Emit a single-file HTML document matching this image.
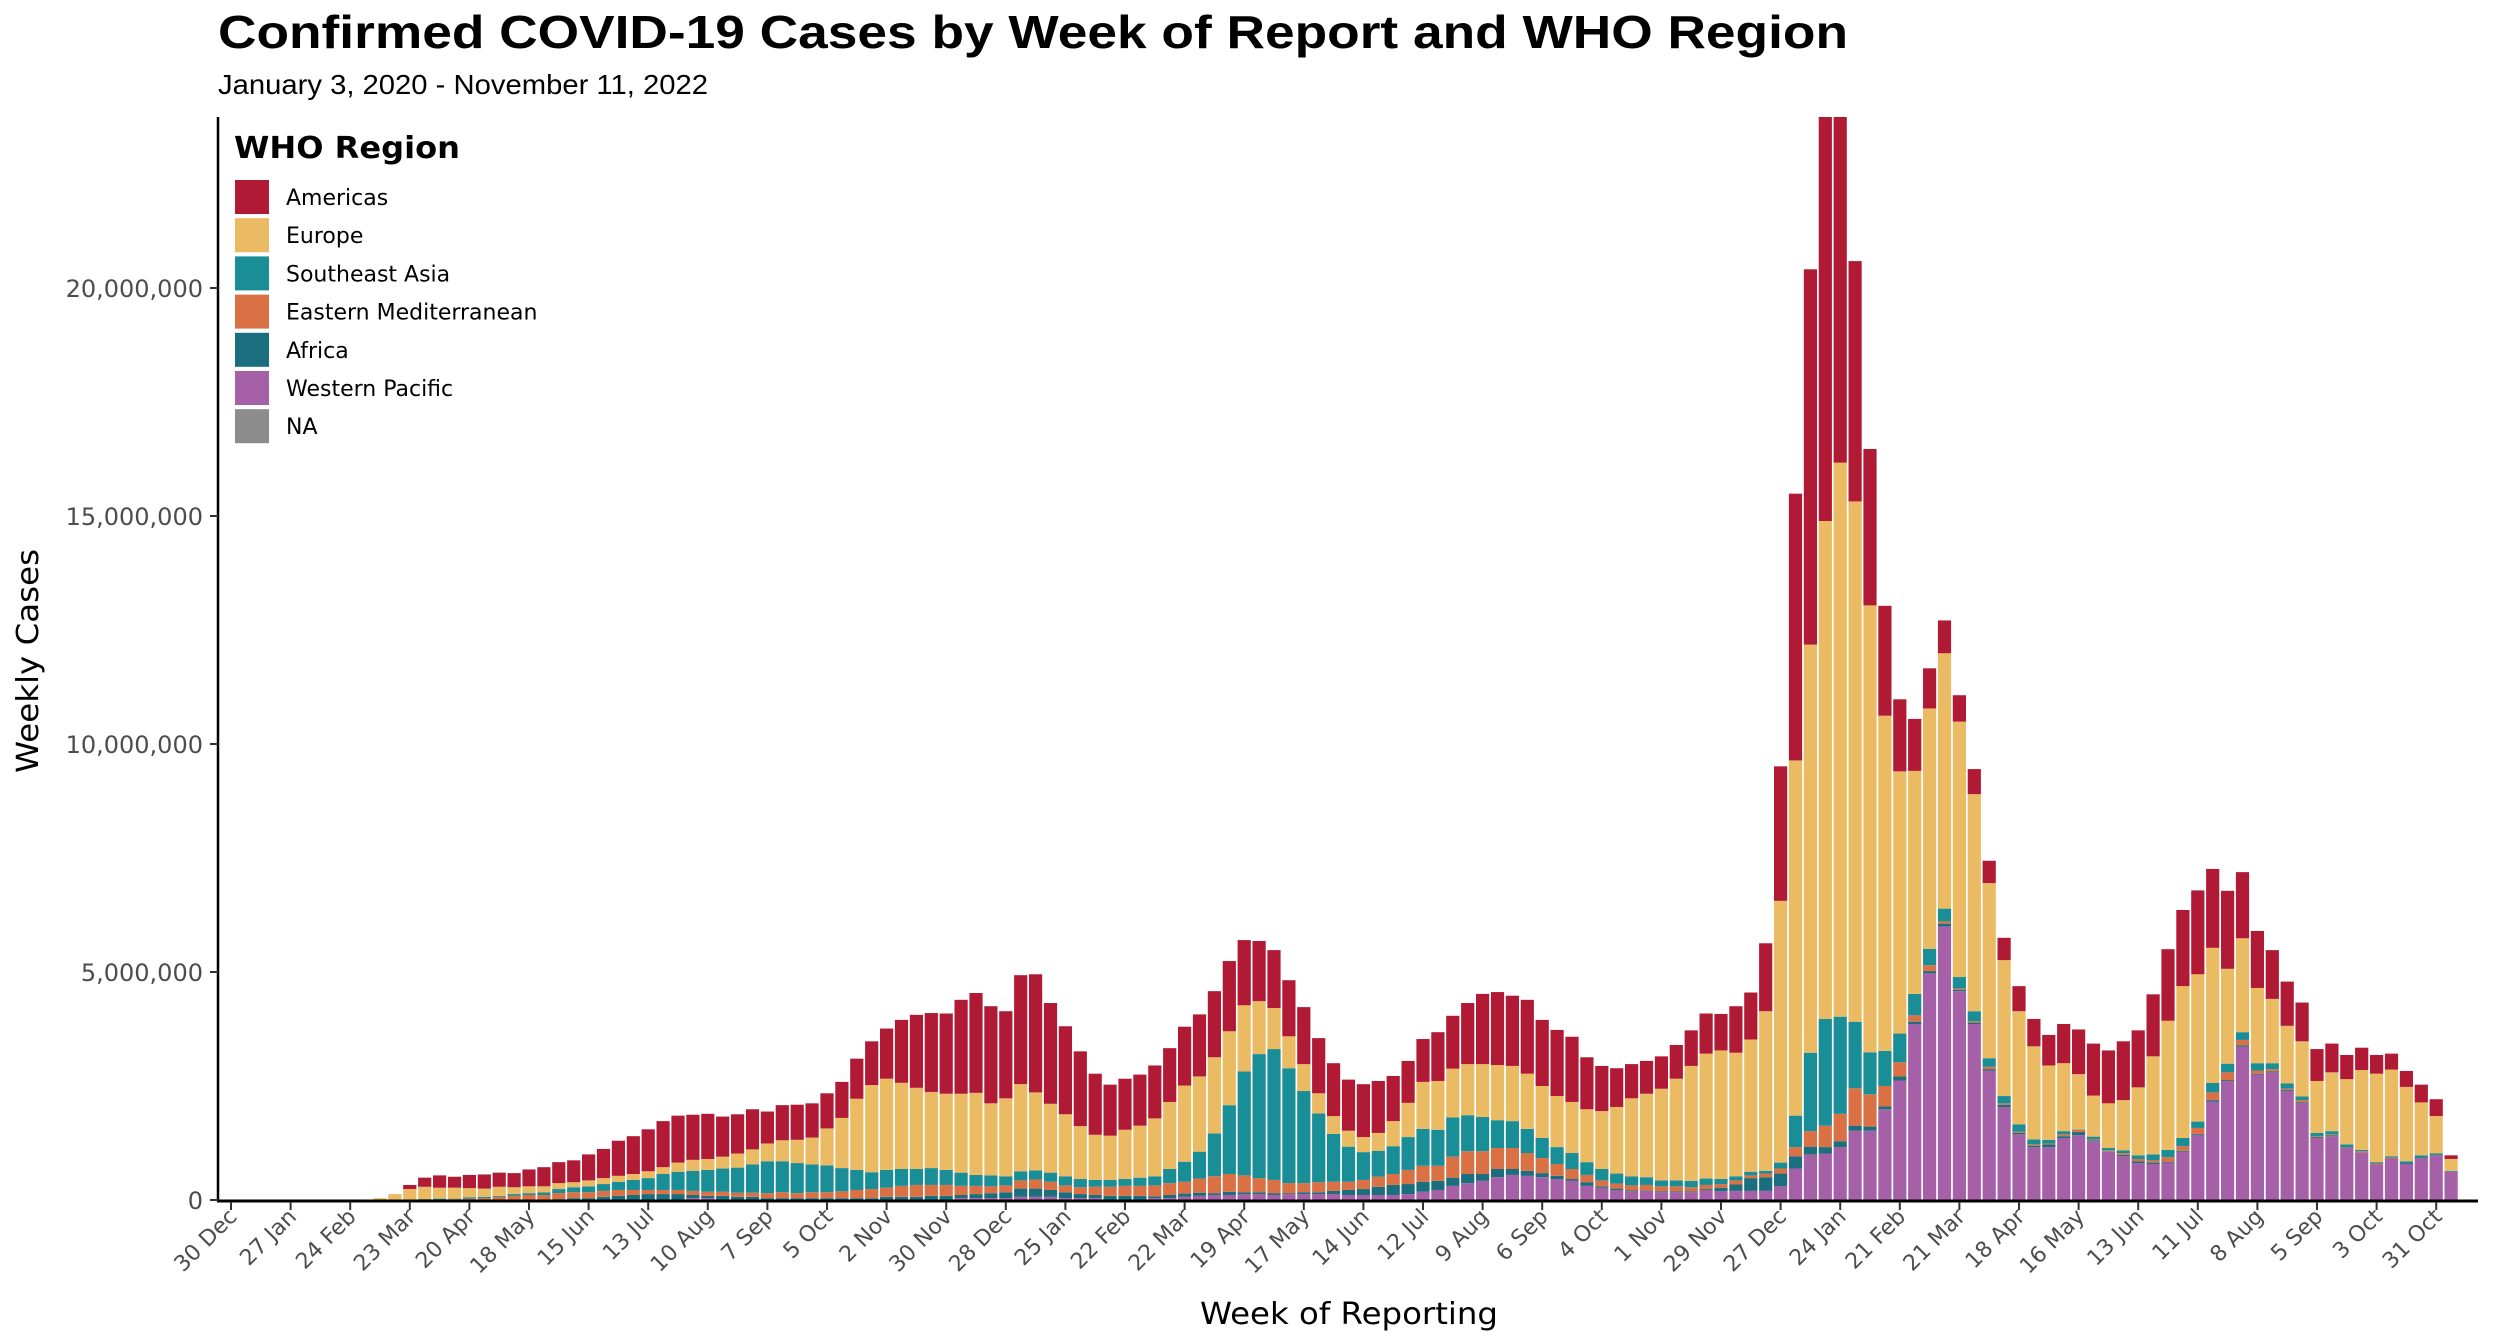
<!DOCTYPE html>
<html><head><meta charset="utf-8">
<style>
html,body{margin:0;padding:0;background:#fff;}
svg{display:block;font-family:"Liberation Sans",sans-serif;}
.dv{font-family:"DejaVu Sans","Liberation Sans",sans-serif;}
</style></head>
<body>
<svg id="chart" width="2496" height="1344" viewBox="0 0 2496 1344" xmlns="http://www.w3.org/2000/svg">
<rect x="0" y="0" width="2496" height="1344" fill="#ffffff"/>
<text x="218" y="48" font-size="46" font-weight="bold" fill="#000" textLength="1630" lengthAdjust="spacingAndGlyphs">Confirmed COVID-19 Cases by Week of Report and WHO Region</text>
<text x="218" y="94" font-size="28" fill="#000" textLength="490" lengthAdjust="spacingAndGlyphs">January 3, 2020 - November 11, 2022</text>
<g id="bars"></g>
<g id="axes"></g>
<text class="dv" transform="translate(38,661) rotate(-90)" text-anchor="middle" font-size="30" fill="#000" textLength="224" lengthAdjust="spacingAndGlyphs">Weekly Cases</text>
<text class="dv" x="1349" y="1324" text-anchor="middle" font-size="30" fill="#000" textLength="298" lengthAdjust="spacingAndGlyphs">Week of Reporting</text>
<g id="legend">
<text class="dv" x="234" y="158" font-size="30" font-weight="bold" fill="#000" textLength="226" lengthAdjust="spacingAndGlyphs">WHO Region</text>
</g>
</svg>
<script>
const weekCount = 150;
const tickLabels = ["30 Dec","27 Jan","24 Feb","23 Mar","20 Apr","18 May","15 Jun","13 Jul","10 Aug","7 Sep","5 Oct","2 Nov","30 Nov","28 Dec","25 Jan","22 Feb","22 Mar","19 Apr","17 May","14 Jun","12 Jul","9 Aug","6 Sep","4 Oct","1 Nov","29 Nov","27 Dec","24 Jan","21 Feb","21 Mar","18 Apr","16 May","13 Jun","11 Jul","8 Aug","5 Sep","3 Oct","31 Oct"];
const yTicks = [0, 5000000, 10000000, 15000000, 20000000];
const yTickLabels = ["0","5,000,000","10,000,000","15,000,000","20,000,000"];
const regions = ["Western Pacific","Africa","Eastern Mediterranean","Southeast Asia","Europe","Americas","NA"];
const legendOrder = ["Americas","Europe","Southeast Asia","Eastern Mediterranean","Africa","Western Pacific","NA"];
// values in millions of cases per week
const westernPacific = [
0,0,0,0,0,0,0,0,0,0,
0,0,0,0,0,0,0,0,0,0,
0,0,0,0,0,0,0,0,0,0,
0,.04,.04,0,0,0,0,0,0,0,
0,0,0,0,0,0,0,0,0,.04,
.04,.04,.04,.07,.07,.07,.04,.04,.04,0,
0,0,.04,.04,.07,.09,.11,.11,.13,.13,
.11,.13,.13,.13,.13,.11,.11,.11,.11,.13,
.18,.22,.31,.37,.42,.50,.55,.53,.50,.46,
.42,.31,.27,.22,.19,.20,.17,.17,.17,.22,
.19,.20,.20,.20,.30,.69,1.00,1.02,1.16,1.52,
1.52,1.99,2.62,3.86,4.97,6.00,4.58,3.86,2.84,2.04,
1.44,1.16,1.16,1.36,1.42,1.29,1.06,.96,.81,.79,
.82,1.06,1.43,2.16,2.61,3.36,2.75,2.80,2.39,2.12,
1.36,1.40,1.14,1.04,.78,.91,.79,.92,.98,.62];
const africa = [
0,0,0,0,0,0,0,0,0,0,
0,0,0,0,0,0,.01,.01,.01,.01,
.01,.01,.02,.04,.04,.07,.09,.11,.13,.13,
.13,.07,.05,.09,.07,.07,.04,.04,.04,.04,
.04,.04,.04,.04,.07,.07,.07,.09,.09,.07,
.09,.11,.13,.18,.18,.15,.13,.09,.07,.09,
.09,.09,.04,.07,.07,.07,.04,.07,.04,.04,
.04,.02,.04,.04,.07,.11,.13,.18,.22,.22,
.22,.20,.18,.20,.15,.18,.13,.11,.09,.07,
.04,.08,.03,.03,.02,.01,.02,.02,.02,.02,
.08,.14,.28,.30,.28,.27,.17,.14,.13,.11,
.09,.06,.09,.05,.05,.06,.03,.03,.03,.05,
.03,.03,.06,.04,.07,.02,.01,.03,.04,.03,
.02,.02,.02,.03,.02,.03,.02,.02,.02,.02,
.02,.02,.01,0,0,0,.02,.02,0,0];
const easternMediterranean = [
0,0,0,0,0,0,0,0,0,0,
0,0,.01,.01,.01,.02,.02,.03,.06,.08,
.10,.10,.13,.13,.13,.13,.13,.11,.09,.09,
.09,.09,.09,.09,.09,.09,.11,.13,.11,.13,
.13,.15,.18,.20,.20,.24,.26,.24,.24,.20,
.18,.15,.15,.18,.20,.18,.15,.15,.18,.20,
.22,.22,.24,.26,.26,.31,.37,.39,.37,.31,
.29,.22,.20,.22,.20,.18,.20,.22,.24,.31,
.35,.33,.46,.50,.50,.46,.46,.39,.33,.26,
.22,.16,.13,.11,.11,.12,.11,.11,.09,.09,
.08,.09,.06,.08,.11,.20,.34,.47,.60,.82,
.71,.45,.31,.14,.13,.05,.03,.03,.05,.03,
.03,.03,.02,.04,.05,.02,.02,.04,.05,.05,
.10,.10,.13,.17,.17,.12,.07,.05,.03,.05,
.02,.02,.01,.03,.02,.02,0,0,0,0];
const southeastAsia = [
0,0,0,0,0,0,0,0,0,0,
0,0,0,.01,.02,.01,.03,.03,.02,.04,
.04,.06,.09,.11,.13,.15,.18,.22,.26,.35,
.40,.44,.48,.51,.55,.62,.70,.68,.66,.61,
.59,.51,.44,.37,.39,.37,.35,.37,.33,.29,
.24,.24,.20,.20,.20,.20,.20,.18,.15,.15,
.15,.18,.20,.31,.44,.59,.94,1.51,2.28,2.72,
2.87,2.52,2.02,1.51,1.05,.77,.61,.57,.61,.72,
.81,.79,.86,.79,.75,.61,.59,.53,.44,.37,
.35,.28,.25,.22,.20,.17,.13,.13,.14,.14,
.11,.09,.08,.06,.13,.69,1.72,2.34,2.13,1.46,
.92,.77,.63,.47,.36,.28,.25,.22,.19,.16,
.16,.11,.08,.07,.01,.06,.05,.06,.08,.13,
.16,.18,.14,.21,.19,.17,.16,.13,.12,.08,
.07,.07,.06,.03,.03,.03,.04,.04,.04,.02];
const europe = [
0,0,0,0,0,0,0,0,0,0,
.04,.13,.23,.27,.24,.24,.20,.18,.20,.15,
.15,.13,.13,.11,.13,.13,.13,.13,.15,.15,
.20,.24,.24,.26,.31,.33,.39,.46,.51,.59,
.81,1.10,1.56,1.91,2.00,1.89,1.78,1.67,1.67,1.73,
1.80,1.58,1.71,1.91,1.71,1.51,1.36,1.16,.99,.97,
1.08,1.14,1.27,1.47,1.67,1.65,1.67,1.62,1.45,1.16,
.90,.70,.59,.44,.39,.35,.33,.39,.55,.75,
1.03,1.07,1.07,1.12,1.16,1.21,1.21,1.21,1.14,1.12,
1.12,1.16,1.27,1.46,1.71,1.83,2.01,2.23,2.52,2.74,
2.82,2.71,2.90,3.50,5.74,7.79,8.95,10.92,12.15,11.41,
9.80,7.35,5.75,4.89,5.27,5.60,5.60,4.76,3.84,2.98,
2.48,2.04,1.63,1.49,1.21,.90,.98,1.10,1.49,2.15,
2.83,3.33,3.23,2.96,2.08,2.06,1.65,1.41,1.26,1.21,
1.14,1.29,1.43,1.75,1.94,1.90,1.63,1.16,.82,.26];
const americas = [
0,0,0,0,0,0,0,0,0,0,
0,0,.09,.20,.27,.24,.29,.31,.31,.31,
.37,.42,.46,.48,.57,.64,.77,.83,.92,1.01,
1.03,.99,.99,.88,.86,.88,.70,.77,.77,.75,
.77,.79,.88,.96,1.10,1.38,1.60,1.73,1.76,2.06,
2.19,2.13,1.91,2.39,2.59,2.21,1.93,1.64,1.34,1.12,
1.12,1.12,1.16,1.18,1.29,1.36,1.45,1.54,1.43,1.32,
1.27,1.23,1.25,1.21,1.16,1.12,1.16,1.14,.99,.92,
.94,1.07,1.16,1.34,1.54,1.60,1.54,1.62,1.45,1.45,
1.43,1.14,.99,.85,.75,.72,.71,.74,.78,.88,
.80,1.02,1.03,1.49,2.95,5.85,8.23,8.86,7.58,5.27,
3.43,2.41,1.58,1.14,.88,.72,.58,.55,.49,.49,
.55,.60,.67,.86,.98,1.14,1.16,1.29,1.25,1.36,
1.57,1.67,1.84,1.73,1.71,1.45,1.25,1.07,.97,.85,
.70,.63,.53,.49,.41,.35,.35,.39,.37,.08];
const naRegion = new Array(150).fill(0);

const NS = "http://www.w3.org/2000/svg";
const colors = {"Americas":"#b11a35","Europe":"#ebbb63","Southeast Asia":"#1a8e96","Eastern Mediterranean":"#d97145","Africa":"#1a6e7e","Western Pacific":"#a660a8","NA":"#8c8c8c"};
const series = {"Western Pacific":westernPacific,"Africa":africa,"Eastern Mediterranean":easternMediterranean,"Southeast Asia":southeastAsia,"Europe":europe,"Americas":americas,"NA":naRegion};
const X0 = 231, STEP = 14.9, BARW = 13.2;
const Y0 = 1200, PXM = 45.6, YTOP = 117;
function xScale(i){ return X0 + i*STEP; }
function yScale(v){ return Y0 - (v/1e6)*PXM; }
function mk(tag, attrs){ const e=document.createElementNS(NS,tag); for(const k in attrs) e.setAttribute(k,attrs[k]); return e; }

const bars = document.getElementById('bars');
for(let i=0;i<weekCount;i++){
  let cum=0;
  for(const r of regions){
    const v = series[r][i]*1e6;
    if(v<=0) continue;
    let y1 = yScale(cum), y2 = yScale(cum+v);
    cum += v;
    y2 = Math.max(y2, YTOP);
    if(y1<=YTOP) continue;
    const rect = mk('rect',{x:(xScale(i)-BARW/2).toFixed(2), y:y2.toFixed(2), width:BARW, height:Math.max(0,y1-y2).toFixed(2), fill:colors[r]});
    
    
    bars.appendChild(rect);
  }
}

const axes = document.getElementById('axes');
const yl = mk('line',{x1:218,y1:YTOP,x2:218,y2:Y0+1.5,stroke:'#000','stroke-width':2.5});


axes.appendChild(yl);
const xl = mk('line',{x1:217,y1:Y0+1,x2:2478,y2:Y0+1,stroke:'#000','stroke-width':3});


axes.appendChild(xl);
yTicks.forEach((t,k)=>{
  const y=yScale(t);
  const tk=mk('line',{x1:210,y1:y,x2:218,y2:y,stroke:'#333','stroke-width':2});
  
  
  axes.appendChild(tk);
  const tx=mk('text',{x:203,y:y+9,'text-anchor':'end','font-size':24,fill:'#4d4d4d','class':'dv'});
  tx.textContent=yTickLabels[k];
  
  
  axes.appendChild(tx);
});
tickLabels.forEach((lab,k)=>{
  const x=xScale(k*4);
  const tk=mk('line',{x1:x,y1:Y0+2,x2:x,y2:Y0+10,stroke:'#333','stroke-width':2});
  
  
  axes.appendChild(tk);
  const tx=mk('text',{transform:`translate(${x+7},${Y0+18}) rotate(-45)`,'text-anchor':'end','font-size':22,fill:'#4d4d4d','class':'dv'});
  tx.textContent=lab;
  
  
  axes.appendChild(tx);
});

const legend = document.getElementById('legend');
legendOrder.forEach((r,k)=>{
  const cy = 197 + k*38.2;
  const sw = mk('rect',{x:235,y:cy-17,width:34,height:34,fill:colors[r]});
  
  
  legend.appendChild(sw);
  const tx = mk('text',{x:286,y:cy+8,'font-size':22,fill:'#000','class':'dv'});
  tx.textContent = r;
  
  
  legend.appendChild(tx);
});
</script>
</body></html>
